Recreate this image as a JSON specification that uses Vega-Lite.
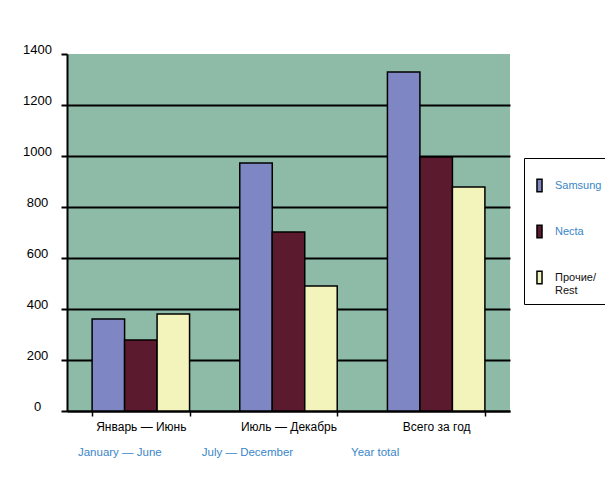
{
  "$schema": "https://vega.github.io/schema/vega-lite/v6.json",
  "width": 443,
  "height": 357,
  "autosize": "none",
  "padding": {"left": 67, "top": 54, "right": 95, "bottom": 84},
  "background": "white",
  "view": {"fill": "#8dbba7", "stroke": null},
  "config": {"font": "Liberation Sans"},
  "data": {
    "values": [
      {"period": "Январь — Июнь", "company": "Samsung", "value": 361},
      {"period": "Январь — Июнь", "company": "Necta", "value": 278},
      {"period": "Январь — Июнь", "company": "Прочие", "value": 380},
      {"period": "Июль — Декабрь", "company": "Samsung", "value": 973},
      {"period": "Июль — Декабрь", "company": "Necta", "value": 702},
      {"period": "Июль — Декабрь", "company": "Прочие", "value": 490},
      {"period": "Всего за год", "company": "Samsung", "value": 1329},
      {"period": "Всего за год", "company": "Necta", "value": 996},
      {"period": "Всего за год", "company": "Прочие", "value": 878}
    ]
  },
  "resolve": {"axis": {"x": "independent"}},
  "layer": [
    {
      "mark": {"type": "bar", "stroke": "black", "strokeWidth": 1.5},
      "encoding": {
        "x": {
          "field": "period",
          "type": "nominal",
          "sort": ["Январь — Июнь", "Июль — Декабрь", "Всего за год"],
          "scale": {"paddingInner": 0.34, "paddingOuter": 0.17},
          "axis": {
            "orient": "bottom",
            "title": null,
            "labelAngle": 0,
            "labelFontSize": 12,
            "labelColor": "black",
            "labelPadding": 5,
            "tickBand": "extent",
            "tickSize": 5,
            "tickColor": "black",
            "tickWidth": 1.5,
            "domainColor": "black",
            "domainWidth": 2,
            "grid": false
          }
        },
        "xOffset": {
          "field": "company",
          "type": "nominal",
          "sort": ["Samsung", "Necta", "Прочие"],
          "scale": {"paddingInner": 0, "paddingOuter": 0}
        },
        "y": {
          "field": "value",
          "type": "quantitative",
          "scale": {"domain": [0, 1400], "nice": false},
          "axis": {
            "title": null,
            "format": "d",
            "values": [0, 200, 400, 600, 800, 1000, 1200, 1400],
            "labelFontSize": 13,
            "labelColor": "black",
            "labelAlign": "center",
            "labelPadding": 24,
            "labelOffset": -5,
            "tickSize": 6,
            "tickColor": "black",
            "tickWidth": 2,
            "domainColor": "black",
            "domainWidth": 2,
            "grid": true,
            "gridColor": {"condition": {"test": "datum.value == 1400", "value": "transparent"}, "value": "black"},
            "gridWidth": 2,
            "gridOpacity": 1
          }
        },
        "color": {
          "field": "company",
          "type": "nominal",
          "sort": ["Samsung", "Necta", "Прочие"],
          "scale": {
            "domain": ["Samsung", "Necta", "Прочие"],
            "range": ["#7f86c4", "#5b1a2e", "#f3f3bc"]
          },
          "legend": {
            "orient": "none",
            "legendX": 457,
            "legendY": 104,
            "title": " ",
            "titleFontSize": 10,
            "titlePadding": 2,
            "fillColor": "white",
            "strokeColor": "black",
            "padding": 8,
            "rowPadding": 27,
            "symbolType": "M-0.4,-1H0.4V1H-0.4Z",
            "symbolSize": 160,
            "symbolStrokeColor": "black",
            "symbolStrokeWidth": 1.5,
            "labelFontSize": 11,
            "labelOffset": 8,
            "labelExpr": "datum.value == 'Прочие' ? ['Прочие/', 'Rest'] : datum.value",
            "encode": {
              "labels": {
                "update": {
                  "fill": {"signal": "datum.value == 'Прочие' ? '#111111' : '#3a86c8'"}
                }
              }
            }
          }
        }
      }
    },
    {
      "mark": {"type": "text", "text": ""},
      "encoding": {
        "x": {
          "field": "period",
          "type": "nominal",
          "sort": ["Январь — Июнь", "Июль — Декабрь", "Всего за год"],
          "axis": {
            "orient": "bottom",
            "title": null,
            "labelAngle": 0,
            "labelFontSize": 11.5,
            "labelColor": "#3a86c8",
            "labelPadding": 35,
            "ticks": false,
            "tickSize": 0,
            "domain": false,
            "grid": false,
            "labelExpr": "datum.value == 'Январь — Июнь' ? 'January — June' : datum.value == 'Июль — Декабрь' ? 'July — December' : 'Year total'",
            "labelOffset": {
              "condition": [
                {"test": "datum.value == 'Январь — Июнь'", "value": -21},
                {"test": "datum.value == 'Июль — Декабрь'", "value": -41}
              ],
              "value": -61
            }
          }
        }
      }
    }
  ]
}
